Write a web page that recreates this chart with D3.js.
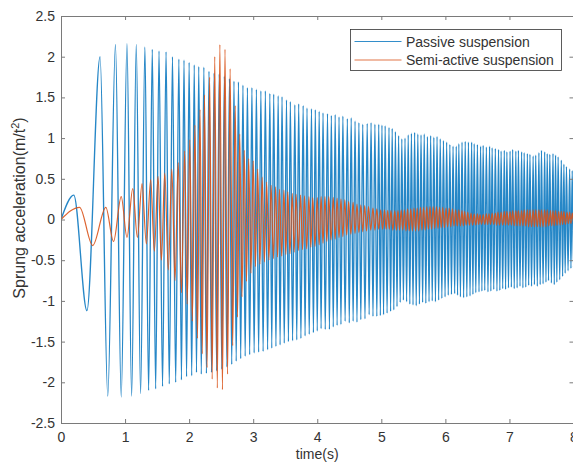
<!DOCTYPE html>
<html>
<head>
<meta charset="utf-8">
<script src="https://cdn.jsdelivr.net/npm/d3@7"></script>
<style>
	html, body { margin: 0; padding: 0; background: #fff; }
	svg { display: block; font-family: "Liberation Sans", Arial, sans-serif; }
</style>
</head>
<body>
<svg id="chart" width="573" height="466"></svg>
<script>
// time of each positive peak (s)
const peakT = [
	0.2, 0.61, 0.85, 1.03, 1.175, 1.31, 1.425, 1.53, 1.64, 1.74,
	1.84, 1.92, 2.0, 2.08, 2.15, 2.23, 2.31, 2.39, 2.47, 2.55,
	2.63, 2.70, 2.77, 2.84, 2.91, 2.98, 3.05, 3.12, 3.19, 3.26,
	3.32, 3.39, 3.45, 3.52, 3.58, 3.65, 3.71, 3.78, 3.84, 3.91,
	3.97, 4.03, 4.09, 4.16, 4.22, 4.28, 4.34, 4.40, 4.47, 4.53,
	4.59, 4.65, 4.71, 4.78, 4.84, 4.90, 4.96, 5.01, 5.06, 5.12,
	5.17, 5.22, 5.27, 5.32, 5.37, 5.42, 5.47, 5.52, 5.57, 5.62,
	5.67, 5.72, 5.77, 5.82, 5.87, 5.92, 5.97, 6.02, 6.07, 6.12,
	6.17, 6.21, 6.26, 6.31, 6.36, 6.41, 6.45, 6.50, 6.55, 6.59,
	6.64, 6.69, 6.73, 6.78, 6.83, 6.87, 6.92, 6.96, 7.01, 7.05,
	7.10, 7.14, 7.19, 7.23, 7.28, 7.32, 7.37, 7.41, 7.46, 7.50,
	7.55, 7.59, 7.63, 7.68, 7.72, 7.76, 7.81, 7.85, 7.89, 7.94,
	7.98, 8.02
];

// passive suspension: peak values and the trough after each peak
const passiveHi = [
	0.3, 2.0, 2.15, 2.16, 2.15, 2.12, 2.09, 2.07, 2.06, 2.0,
	1.97, 1.96, 1.93, 1.9, 1.88, 1.87, 1.82, 1.80, 1.79, 1.76,
	1.73, 1.70, 1.69, 1.65, 1.62, 1.62, 1.60, 1.58, 1.58, 1.55,
	1.54, 1.52, 1.51, 1.47, 1.45, 1.41, 1.42, 1.40, 1.37, 1.36,
	1.35, 1.33, 1.31, 1.30, 1.28, 1.29, 1.26, 1.27, 1.24, 1.25,
	1.21, 1.19, 1.17, 1.18, 1.19, 1.17, 1.17, 1.16, 1.15, 1.13,
	1.12, 1.08, 1.03, 0.99, 1.0, 1.04, 1.06, 1.07, 1.05, 1.04,
	1.05, 1.02, 1.03, 1.01, 1.02, 0.99, 0.97, 0.95, 0.92, 0.9,
	0.9, 0.93, 0.95, 0.96, 0.95, 0.95, 0.93, 0.92, 0.9, 0.91,
	0.89, 0.9, 0.88, 0.87, 0.86, 0.84, 0.85, 0.83, 0.84, 0.86,
	0.84, 0.85, 0.83, 0.82, 0.81, 0.8, 0.78, 0.79, 0.82, 0.85,
	0.83, 0.81, 0.8, 0.81, 0.79, 0.77, 0.73, 0.68, 0.65, 0.62,
	0.6, 0.6
];
const passiveLo = [
	-1.12, -2.17, -2.18, -2.17, -2.14, -2.1, -2.08, -2.05, -2.02, -2.0,
	-1.97, -1.93, -1.92, -1.88, -1.9, -1.89, -1.88, -1.86, -1.84, -1.81,
	-1.78, -1.74, -1.71, -1.68, -1.66, -1.64, -1.63, -1.62, -1.6, -1.58,
	-1.56, -1.54, -1.52, -1.5, -1.49, -1.48, -1.46, -1.43, -1.41, -1.39,
	-1.37, -1.34, -1.35, -1.35, -1.32, -1.3, -1.29, -1.25, -1.27, -1.25,
	-1.26, -1.23, -1.22, -1.17, -1.19, -1.19, -1.18, -1.17, -1.15, -1.13,
	-1.11, -1.07, -1.02, -0.99, -1.01, -1.04, -1.05, -1.06, -1.04, -1.02,
	-1.03, -1.01, -1.0, -1.01, -0.99, -0.97, -0.95, -0.93, -0.92, -0.91,
	-0.93, -0.95, -0.96, -0.95, -0.94, -0.92, -0.9, -0.89, -0.88, -0.87,
	-0.89, -0.88, -0.86, -0.88, -0.87, -0.85, -0.86, -0.84, -0.83, -0.85,
	-0.84, -0.82, -0.84, -0.83, -0.81, -0.82, -0.8, -0.82, -0.8, -0.79,
	-0.77, -0.75, -0.78, -0.8, -0.77, -0.74, -0.7, -0.66, -0.63, -0.6,
	-0.59
];

// semi-active suspension: same cycles, lagging the passive trace
const semiLag = 0.09;
const semiHi = [
	0.15, 0.15, 0.28, 0.38, 0.44, 0.49, 0.53, 0.57, 0.62, 0.7,
	0.84, 0.98, 1.16, 1.35, 1.53, 1.75, 2.0, 2.15, 2.09, 1.85,
	1.4, 1.05, 0.85, 0.75, 0.72, 0.62, 0.52, 0.46, 0.42, 0.4,
	0.37, 0.36, 0.34, 0.32, 0.31, 0.3, 0.29, 0.28, 0.27, 0.27,
	0.28, 0.28, 0.28, 0.27, 0.26, 0.25, 0.24, 0.22, 0.21, 0.19,
	0.18, 0.17, 0.16, 0.14, 0.13, 0.12, 0.12, 0.11, 0.11, 0.11,
	0.11, 0.12, 0.12, 0.13, 0.13, 0.14, 0.14, 0.15, 0.15, 0.16,
	0.16, 0.16, 0.16, 0.15, 0.15, 0.14, 0.14, 0.13, 0.12, 0.12,
	0.11, 0.10, 0.09, 0.08, 0.07, 0.07, 0.06, 0.06, 0.07, 0.07,
	0.08, 0.08, 0.09, 0.09, 0.10, 0.10, 0.10, 0.11, 0.11, 0.11,
	0.11, 0.12, 0.12, 0.12, 0.12, 0.12, 0.12, 0.12, 0.12, 0.12,
	0.11, 0.11, 0.11, 0.10, 0.10, 0.10, 0.09, 0.09, 0.08, 0.08,
	0.08, 0.08
];
const semiLo = [
	-0.32, -0.27, -0.22, -0.22, -0.3, -0.39, -0.5, -0.62, -0.75, -0.9,
	-1.04, -1.25, -1.46, -1.65, -1.82, -1.96, -2.07, -2.09, -1.9, -1.55,
	-1.2, -0.95, -0.76, -0.66, -0.58, -0.55, -0.52, -0.5, -0.48, -0.46,
	-0.45, -0.43, -0.42, -0.4, -0.38, -0.37, -0.36, -0.34, -0.33, -0.31,
	-0.29, -0.27, -0.25, -0.24, -0.22, -0.21, -0.19, -0.18, -0.17, -0.16,
	-0.15, -0.14, -0.13, -0.13, -0.12, -0.12, -0.12, -0.12, -0.13, -0.13,
	-0.13, -0.13, -0.14, -0.14, -0.14, -0.14, -0.14, -0.13, -0.13, -0.12,
	-0.12, -0.11, -0.11, -0.10, -0.10, -0.09, -0.09, -0.08, -0.08, -0.08,
	-0.08, -0.07, -0.07, -0.07, -0.07, -0.06, -0.06, -0.06, -0.06, -0.06,
	-0.06, -0.07, -0.07, -0.07, -0.07, -0.07, -0.07, -0.08, -0.08, -0.08,
	-0.08, -0.08, -0.09, -0.09, -0.09, -0.09, -0.09, -0.09, -0.09, -0.08,
	-0.08, -0.08, -0.07, -0.07, -0.06, -0.06, -0.05, -0.05, -0.04, -0.04,
	-0.04
];

const xTicks = [0, 1, 2, 3, 4, 5, 6, 7, 8];
const yTicks = [-2.5, -2, -1.5, -1, -0.5, 0, 0.5, 1, 1.5, 2, 2.5];
const seriesNames = ["Passive suspension", "Semi-active suspension"];
const seriesColors = ["#0072BD", "#D95319"];

const
	plotLeft = 61,
	plotRight = 573.5,
	plotTop = 16,
	plotBottom = 423;

const svg = d3.select("#chart");

const x = d3.scaleLinear().domain([0, 8]).range([plotLeft, plotRight]);
const y = d3.scaleLinear().domain([-2.5, 2.5]).range([plotBottom, plotTop]);

// peak, then trough half way to the next peak
function buildPoints(times, hi, lo, lag) {
	const pts = [[0, 0]];
	times.forEach((t, i) => {
		pts.push([t + lag, hi[i]]);
		if (i < lo.length) {
			pts.push([(t + times[i + 1]) / 2 + lag, lo[i]]);
		}
	});
	return pts;
}

svg.append("defs")
	.append("clipPath")
	.attr("id", "plot-clip")
	.append("rect")
	.attr("x", plotLeft)
	.attr("y", plotTop)
	.attr("width", plotRight - plotLeft)
	.attr("height", plotBottom - plotTop);

const line = d3.line()
	.x(d => x(d[0]))
	.y(d => y(d[1]))
	.curve(d3.curveMonotoneX);

const plot = svg.append("g").attr("clip-path", "url(#plot-clip)");

plot.append("path")
	.datum(buildPoints(peakT, passiveHi, passiveLo, 0))
	.attr("d", line)
	.attr("fill", "none")
	.attr("stroke", seriesColors[0])
	.attr("stroke-opacity", 0.85)
	.attr("stroke-width", 1.35);

plot.append("path")
	.datum(buildPoints(peakT, semiHi, semiLo, semiLag))
	.attr("d", line)
	.attr("fill", "none")
	.attr("stroke", seriesColors[1])
	.attr("stroke-opacity", 0.9)
	.attr("stroke-width", 1.2);

// axes, ticks pointing inwards on all four sides
function styleAxis(g) {
	g.selectAll(".domain").attr("stroke", "#7a7a7a");
	g.selectAll(".tick line").attr("stroke", "#7a7a7a");
	g.selectAll(".tick text")
		.attr("fill", "#333")
		.style("font-size", "14px")
		.style("font-family", "'Liberation Sans', Arial, sans-serif");
}

svg.append("g")
	.attr("transform", `translate(0,${plotBottom})`)
	.call(d3.axisBottom(x).tickValues(xTicks).tickFormat(d3.format("d")).tickSize(-4).tickSizeOuter(0).tickPadding(9))
	.call(styleAxis);

svg.append("g")
	.attr("transform", `translate(0,${plotTop})`)
	.call(d3.axisTop(x).tickValues(xTicks).tickFormat("").tickSize(-4).tickSizeOuter(0))
	.call(styleAxis);

svg.append("g")
	.attr("transform", `translate(${plotLeft},0)`)
	.call(d3.axisLeft(y).tickValues(yTicks).tickFormat(d => String(d)).tickSize(-4).tickSizeOuter(0).tickPadding(6))
	.call(styleAxis);

svg.append("g")
	.attr("transform", `translate(${plotRight},0)`)
	.call(d3.axisRight(y).tickValues(yTicks).tickFormat("").tickSize(-4).tickSizeOuter(0))
	.call(styleAxis);

// axis titles
svg.append("text")
	.attr("x", x(4))
	.attr("y", 459)
	.attr("text-anchor", "middle")
	.attr("fill", "#333")
	.style("font-size", "14px")
	.text("time(s)");

const ylab = svg.append("text")
	.attr("transform", "translate(25,208) rotate(-90)")
	.attr("text-anchor", "middle")
	.attr("fill", "#333")
	.style("font-size", "16px");
ylab.append("tspan").text("Sprung acceleration(m/t");
ylab.append("tspan").attr("dy", -6).style("font-size", "11px").text("2");
ylab.append("tspan").attr("dy", 6).text(")");

// legend
const legend = svg.append("g").attr("transform", "translate(350.5,29.5)");
legend.append("rect")
	.attr("width", 211)
	.attr("height", 41)
	.attr("fill", "#fff")
	.attr("stroke", "#333")
	.attr("stroke-width", 0.8);

seriesNames.forEach((name, i) => {
	const rowY = 12 + i * 18.5;
	legend.append("line")
		.attr("x1", 4)
		.attr("x2", 51)
		.attr("y1", rowY)
		.attr("y2", rowY)
		.attr("stroke", seriesColors[i])
		.attr("stroke-opacity", 0.8)
		.attr("stroke-width", 1.2);
	legend.append("text")
		.attr("x", 55.5)
		.attr("y", rowY + 5)
		.attr("fill", "#333")
		.style("font-size", "14px")
		.text(name);
});
</script>
</body>
</html>
